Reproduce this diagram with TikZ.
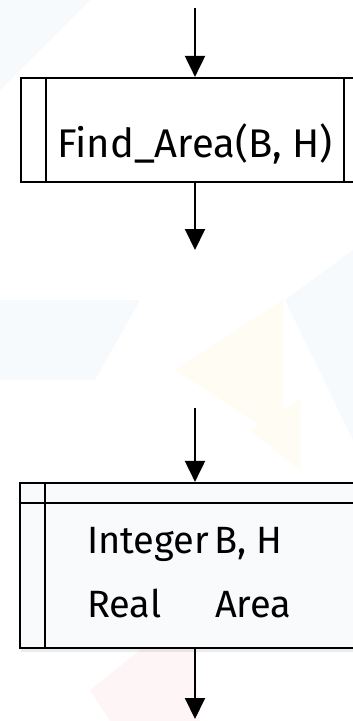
\documentclass[tikz,border=0pt]{standalone}
\usepackage{fontspec}
\setmainfont{Fira Sans}
\usetikzlibrary{arrows.meta,shadows}
\definecolor{bgblue}{HTML}{F7FAFD}
\definecolor{bgyellow}{HTML}{FFFCF3}
\definecolor{bgpink}{HTML}{FEF5F7}
\definecolor{storefill}{HTML}{F9FAFC}
\begin{document}
\begin{tikzpicture}[x=1pt,y=-1pt,
  flow/.style={line width=2pt,-{Triangle[width=20pt,length=21pt]}},
  boxline/.style={line width=2.2pt},
  caption/.style={font=\fontsize{40}{46}\selectfont, inner sep=0pt},
  entry/.style={font=\fontsize{38}{44}\selectfont, inner sep=0pt, anchor=base west},
]
\useasboundingbox (0,0) rectangle (353,721);
\clip (0,0) rectangle (353,721);
\fill[white] (0,0) rectangle (353,721);

% soft backdrop facets
\fill[bgblue] (0,0) -- (90,0) -- (0,90) -- cycle;
\fill[bgblue] (0,300) -- (140,300) -- (95,380) -- (0,380) -- cycle;
\fill[bgblue] (285,300) -- (353,250) -- (353,440) -- cycle;
\fill[bgyellow] (175,370) -- (283,300) -- (283,440) -- cycle;
\fill[bgyellow] (250,430) -- (300,400) -- (300,470) -- cycle;
\fill[bgpink] (90,690) -- (190,610) -- (200,721) -- (110,721) -- cycle;

% predefined process box
\node[boxline, draw, fill=white, minimum width=348pt, minimum height=104pt, inner sep=0pt] (proc) at (195,130) {};
\draw[boxline] ([xshift=26pt]proc.north west) -- ([xshift=26pt]proc.south west);
\draw[boxline] ([xshift=-26pt]proc.north east) -- ([xshift=-26pt]proc.south east);
\node[caption, anchor=base] (call) at (195,157) {Find\_Area(B, H)};

% internal storage box
\node[boxline, draw, fill=storefill, minimum width=350pt, minimum height=165pt, inner sep=0pt,
      drop shadow={opacity=0.15, shadow xshift=1pt, shadow yshift=-4pt}] (store) at (195,565.5) {};
\draw[boxline] ([xshift=26pt]store.north west) -- ([xshift=26pt]store.south west);
\draw[boxline] ([yshift=-21pt]store.north west) -- ([yshift=-21pt]store.north east);
\node[entry] (tint) at (87,553) {Integer};
\node[entry] (tbh) at (214,553) {B, H};
\node[entry] (treal) at (87,617) {Real};
\node[entry] (tarea) at (215,617) {Area};

% flow lines
\coordinate (in1) at (195,8);
\coordinate (out1) at (195,250);
\coordinate (in2) at (195,408);
\coordinate (out2) at (195,719);
\draw[flow] (in1) -- (proc.north);
\draw[flow] (proc.south) -- (out1);
\draw[flow] (in2) -- (store.north);
\draw[flow] (store.south) -- (out2);
\end{tikzpicture}
\end{document}
